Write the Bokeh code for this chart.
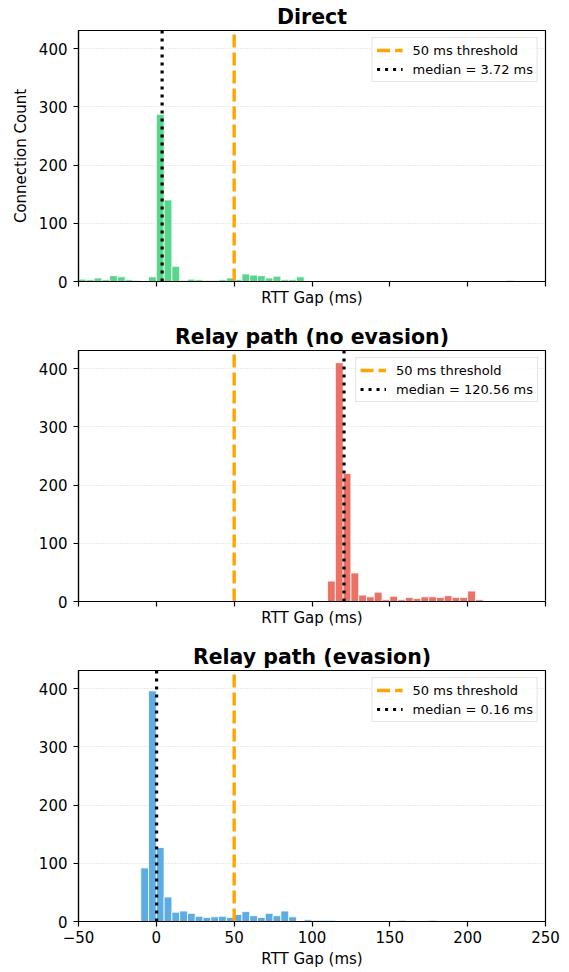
from bokeh.plotting import figure
from bokeh.layouts import column
from bokeh.models import Legend, LegendItem, FixedTicker, ColumnDataSource
from bokeh.embed import file_html
from bokeh.resources import INLINE

# ---------------- data ----------------
BIN_START = -50
BIN_WIDTH = 5
direct_counts = [4, 3, 6, 3, 10, 8, 3, 2, 0, 8,
                 287, 140, 26, 2, 4, 3, 2, 2, 3, 6,
                 3, 13, 11, 10, 6, 9, 3, 3, 8, 0,
                 0, 0, 0, 0, 1, 0, 0, 0, 0, 0,
                 0, 0, 0, 0, 0, 0, 0, 0, 0, 0,
                 0, 0, 0, 0, 0, 2, 0, 0, 0, 0]
relay_counts = [0, 0, 0, 0, 0, 0, 0, 0, 0, 0,
                0, 0, 0, 0, 0, 0, 0, 0, 0, 0,
                0, 0, 0, 0, 0, 0, 0, 0, 0, 0,
                0, 0, 35, 410, 220, 49, 11, 8, 16, 3,
                9, 3, 7, 5, 8, 8, 7, 10, 7, 7,
                18, 3, 0, 0, 0, 0, 0, 0, 1, 1]
evasion_counts = [0, 0, 0, 0, 0, 0, 0, 1, 92, 396,
                  127, 42, 16, 18, 14, 9, 7, 8, 9, 7,
                  12, 17, 10, 7, 14, 10, 18, 8, 0, 3,
                  2, 2, 2, 0, 0, 0, 0, 0, 0, 0,
                  1, 2, 0, 1, 0, 2, 0, 0, 0, 0,
                  0, 0, 0, 0, 1, 0, 0, 0, 0, 0]
panel_titles = ["Direct", "Relay path (no evasion)", "Relay path (evasion)"]
panel_counts = [direct_counts, relay_counts, evasion_counts]
medians = [3.72, 120.56, 0.16]
threshold = 50
bar_colors = ["#2ecc71", "#e74c3c", "#3498db"]
x_ticks = [-50, 0, 50, 100, 150, 200, 250]
y_ticks = [0, 100, 200, 300, 400]
X_RANGE = (-50, 250)
Y_RANGE = (0, 431)

FONT = "DejaVu Sans"
W = 561
FRAME_H = 253
TOP = 28
THR_DASH = "13 5"
MED_DASH = "3 5"


def make_panel(i, show_xlabels, show_ylabel, bottom_border):
    counts = panel_counts[i]
    left = [BIN_START + k * BIN_WIDTH for k in range(len(counts))]
    right = [l + BIN_WIDTH for l in left]
    src = ColumnDataSource(dict(left=left, right=right, top=counts,
                                bottom=[0] * len(counts)))
    p = figure(width=W, height=TOP + FRAME_H + bottom_border,
               x_range=X_RANGE, y_range=Y_RANGE,
               output_backend="svg", toolbar_location=None,
               min_border_left=78, min_border_right=16,
               min_border_top=TOP, min_border_bottom=bottom_border)
    p.title.text = panel_titles[i]
    p.title.text_font = FONT
    p.title.text_font_size = "20.5px"
    p.title.text_font_style = "bold"
    p.title.text_color = "black"
    p.title.align = "center"
    p.title.standoff = 4

    p.quad(left="left", right="right", top="top", bottom="bottom", source=src,
           fill_color=bar_colors[i], fill_alpha=0.8,
           line_color="white", line_width=0.8)

    r_thr = p.line(x=[threshold, threshold], y=list(Y_RANGE),
                   line_color="orange", line_width=3.4, line_dash=THR_DASH)
    r_med = p.line(x=[medians[i], medians[i]], y=list(Y_RANGE),
                   line_color="black", line_width=3.2, line_dash=MED_DASH)
    leg = Legend(items=[LegendItem(label="50 ms threshold", renderers=[r_thr]),
                        LegendItem(label="median = %.2f ms" % medians[i], renderers=[r_med])],
                 location="top_right", margin=7, padding=4, spacing=3,
                 glyph_width=26, glyph_height=16, label_height=16,
                 label_standoff=10,
                 label_text_font=FONT, label_text_font_size="13px",
                 label_text_color="black",
                 border_line_color="#cccccc", border_line_width=1,
                 background_fill_alpha=0.8)
    p.add_layout(leg, "center")

    p.outline_line_color = "black"
    p.outline_line_width = 1.2
    p.xgrid.visible = False
    p.ygrid.grid_line_color = "#d4d4d4"
    p.ygrid.grid_line_dash = "1 2"
    p.ygrid.grid_line_width = 1
    p.ygrid.ticker = FixedTicker(ticks=y_ticks)

    for ax in (p.xaxis[0], p.yaxis[0]):
        ax.axis_line_color = "black"
        ax.axis_line_width = 1.2
        ax.major_tick_line_color = "black"
        ax.major_tick_line_width = 1.2
        ax.major_tick_out = 5
        ax.major_tick_in = 0
        ax.minor_tick_line_color = None
        ax.major_label_text_font = FONT
        ax.major_label_text_font_size = "15px"
        ax.major_label_text_color = "black"
        ax.axis_label_text_font = FONT
        ax.axis_label_text_font_size = "15px"
        ax.axis_label_text_font_style = "normal"
        ax.axis_label_text_color = "black"

    p.xaxis.ticker = FixedTicker(ticks=x_ticks)
    p.xaxis.major_label_overrides = {t: str(t).replace("-", "\u2212") for t in x_ticks}
    p.xaxis.axis_label = "RTT Gap (ms)"
    if not show_xlabels:
        p.xaxis.major_label_text_font_size = "0px"
        p.xaxis.major_label_standoff = 0
        p.xaxis.axis_label_standoff = 2
    else:
        p.xaxis.major_label_standoff = 4
        p.xaxis.axis_label_standoff = 4

    p.yaxis.ticker = FixedTicker(ticks=y_ticks)
    p.yaxis.major_label_standoff = 6
    if show_ylabel:
        p.yaxis.axis_label = "Connection Count"
        p.yaxis.axis_label_standoff = 6
    return p


p1 = make_panel(0, False, True, 39)
p2 = make_panel(1, False, False, 39)
p3 = make_panel(2, True, False, 49)

layout = column(p1, p2, p3, spacing=0)

open("out.html", "w").write(file_html(layout, INLINE))
